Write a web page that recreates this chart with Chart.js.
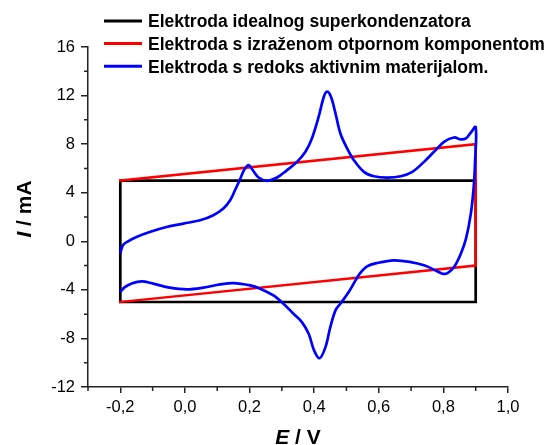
<!DOCTYPE html>
<html>
<head>
<meta charset="utf-8">
<script src="https://cdn.jsdelivr.net/npm/chart.js@4.4.1/dist/chart.umd.min.js"></script>
<style>
	html, body { margin: 0; padding: 0; background: #fff; }
	#wrap { width: 547px; height: 445px; }
</style>
</head>
<body>
<div id="wrap"><canvas id="cvChart" width="547" height="445"></canvas></div>
<script>
(function () {
	'use strict';

	var seriesLabels = [
		'Elektroda idealnog superkondenzatora',
		'Elektroda s izraženom otpornom komponentom',
		'Elektroda s redoks aktivnim materijalom.'
	];

	// ideal capacitor: rectangle
	var idealE = [-0.2, -0.2, 0.9, 0.9, -0.2];
	var idealI = [-5, 5, 5, -5, -5];

	// resistive electrode: tilted parallelogram
	var resistE = [-0.2, 0.9, 0.9, -0.2];
	var resistI = [5, 8, -2, -5];

	// redox active material (anodic sweep, then cathodic sweep)
	var redoxE = [
		-0.2, -0.192, -0.176, -0.15, -0.109, -0.057, -0.005, 0.047, 0.088, 0.119,
		0.14, 0.155, 0.169, 0.183, 0.197, 0.21, 0.228, 0.254, 0.285, 0.316,
		0.347, 0.373, 0.393, 0.414, 0.43, 0.44, 0.452, 0.466, 0.481, 0.502,
		0.523, 0.554, 0.585, 0.626, 0.668, 0.704, 0.74, 0.771, 0.802, 0.833,
		0.854, 0.87, 0.883, 0.9,
		0.898, 0.894, 0.885, 0.87, 0.854, 0.833, 0.813, 0.797, 0.776, 0.74,
		0.699, 0.647, 0.595, 0.564, 0.543, 0.528, 0.507, 0.481, 0.466, 0.45,
		0.435, 0.417, 0.4, 0.383, 0.362, 0.336, 0.305, 0.274, 0.233, 0.202,
		0.15, 0.109, 0.057, 0.005, -0.047, -0.098, -0.134, -0.166, -0.186, -0.2
	];
	var redoxI = [
		-1.0, -0.33, 0.0, 0.36, 0.77, 1.18, 1.46, 1.73, 2.15, 2.7,
		3.38, 4.2, 5.0, 5.86, 6.27, 5.86, 5.25, 4.98, 5.25, 5.86,
		6.54, 7.37, 8.47, 10.26, 11.9, 12.32, 11.9, 10.54, 8.9, 7.65,
		6.68, 5.72, 5.36, 5.25, 5.36, 5.72, 6.54, 7.37, 8.19, 8.55,
		8.39, 8.47, 8.88, 9.4,
		6.5, 4.5, 2.28, 0.22, -1.02, -2.12, -2.62, -2.67, -2.4, -1.98,
		-1.71, -1.57, -1.79, -2.06, -2.6, -3.22, -4.18, -5.14, -5.69, -7.07,
		-8.72, -9.63, -9.0, -7.62, -6.66, -5.97, -5.14, -4.46, -3.9, -3.63,
		-3.44, -3.55, -3.82, -3.96, -3.82, -3.49, -3.3, -3.49, -3.77, -4.18
	];

	var xMajor = [-0.2, 0, 0.2, 0.4, 0.6, 0.8, 1.0];
	var xTickLabels = ['-0,2', '0,0', '0,2', '0,4', '0,6', '0,8', '1,0'];
	var xMinor = [-0.3, -0.1, 0.1, 0.3, 0.5, 0.7, 0.9];
	var yMajor = [-12, -8, -4, 0, 4, 8, 12, 16];
	var yTickLabels = ['-12', '-8', '-4', '0', '4', '8', '12', '16'];
	var yMinor = [-10, -6, -2, 2, 6, 10, 14];

	var FONT = "'Liberation Sans', Arial, Helvetica, sans-serif";
	var AXIS = '#222';

	function pts(xs, ys) {
		return xs.map(function (x, i) { return { x: x, y: ys[i] }; });
	}

	function drawMixed(ctx, parts, cx, y) {
		var total = 0;
		parts.forEach(function (p) { ctx.font = p.font; p.w = ctx.measureText(p.text).width; total += p.w; });
		var x = cx - total / 2;
		ctx.textAlign = 'left';
		parts.forEach(function (p) { ctx.font = p.font; ctx.fillText(p.text, x, y); x += p.w; });
	}

	var decorations = {
		id: 'decorations',
		afterDraw: function (chart) {
			var ctx = chart.ctx, ca = chart.chartArea;
			var sx = chart.scales.x, sy = chart.scales.y;
			ctx.save();

			// minor ticks
			ctx.strokeStyle = AXIS;
			ctx.lineWidth = 1.5;
			ctx.beginPath();
			xMinor.forEach(function (v) {
				var px = sx.getPixelForValue(v);
				ctx.moveTo(px, ca.bottom);
				ctx.lineTo(px, ca.bottom + 4);
			});
			yMinor.forEach(function (v) {
				var py = sy.getPixelForValue(v);
				ctx.moveTo(ca.left, py);
				ctx.lineTo(ca.left - 4, py);
			});
			ctx.stroke();

			// axis titles
			ctx.fillStyle = '#000';
			ctx.textBaseline = 'alphabetic';
			drawMixed(ctx, [
				{ text: 'E', font: 'italic bold 21px ' + FONT },
				{ text: ' / V', font: 'bold 21px ' + FONT }
			], (ca.left + ca.right) / 2, 444);

			ctx.save();
			ctx.translate(31, 209);
			ctx.rotate(-Math.PI / 2);
			drawMixed(ctx, [
				{ text: 'I', font: 'italic bold 21px ' + FONT },
				{ text: ' / mA', font: 'bold 21px ' + FONT }
			], 0, 0);
			ctx.restore();

			// legend
			var base = [27.2, 49.9, 72.6];
			chart.data.datasets.forEach(function (ds, i) {
				var y = base[i] - 6.3;
				ctx.strokeStyle = ds.borderColor;
				ctx.lineWidth = 3;
				ctx.beginPath();
				ctx.moveTo(104, y);
				ctx.lineTo(142, y);
				ctx.stroke();
				ctx.font = 'bold 17.5px ' + FONT;
				ctx.fillStyle = '#000';
				ctx.textAlign = 'left';
				ctx.fillText(ds.label, 148, base[i]);
			});

			ctx.restore();
		}
	};

	new Chart(document.getElementById('cvChart'), {
		type: 'scatter',
		data: {
			datasets: [
				{
					label: seriesLabels[0],
					data: pts(idealE, idealI),
					showLine: true,
					borderColor: '#000000',
					borderWidth: 2.7,
					borderCapStyle: 'square',
					pointRadius: 0,
					tension: 0,
					order: 2,
				},
				{
					label: seriesLabels[1],
					data: pts(resistE, resistI),
					showLine: true,
					borderColor: '#ff0000',
					borderWidth: 2.5,
					borderCapStyle: 'square',
					pointRadius: 0,
					tension: 0,
					order: 1,
				},
				{
					label: seriesLabels[2],
					data: pts(redoxE, redoxI),
					showLine: true,
					borderColor: '#0000ff',
					borderWidth: 2.7,
					pointRadius: 0,
					tension: 0.35,
					order: 0,
				},
			],
		},
		options: {
			responsive: false,
			animation: false,
			layout: {
				padding: { top: 47, right: 39, bottom: 0, left: 0 },
			},
			plugins: {
				legend: { display: false },
				tooltip: { enabled: false },
			},
			scales: {
				x: {
					type: 'linear',
					min: -0.3,
					max: 1.0,
					afterBuildTicks: function (s) {
						s.ticks = xMajor.map(function (v) { return { value: v }; });
					},
					afterFit: function (s) { s.height = 58; },
					ticks: {
						autoSkip: false,
						maxRotation: 0,
						padding: 5,
						color: '#000',
						font: { family: FONT, size: 16.5 },
						callback: function (v) { return xTickLabels[xMajor.indexOf(v)]; },
					},
					grid: {
						drawOnChartArea: false,
						tickLength: 6,
						color: AXIS,
						lineWidth: 1.5,
					},
					border: { color: AXIS, width: 1.5 },
				},
				y: {
					type: 'linear',
					min: -12,
					max: 16,
					afterBuildTicks: function (s) {
						s.ticks = yMajor.map(function (v) { return { value: v }; });
					},
					afterFit: function (s) { s.width = 88; },
					ticks: {
						autoSkip: false,
						padding: 6,
						color: '#000',
						font: { family: FONT, size: 16.5 },
						callback: function (v) { return yTickLabels[yMajor.indexOf(v)]; },
					},
					grid: {
						drawOnChartArea: false,
						tickLength: 7,
						color: AXIS,
						lineWidth: 1.5,
					},
					border: { color: AXIS, width: 1.5 },
				},
			},
		},
		plugins: [decorations],
	});
})();
</script>
</body>
</html>
